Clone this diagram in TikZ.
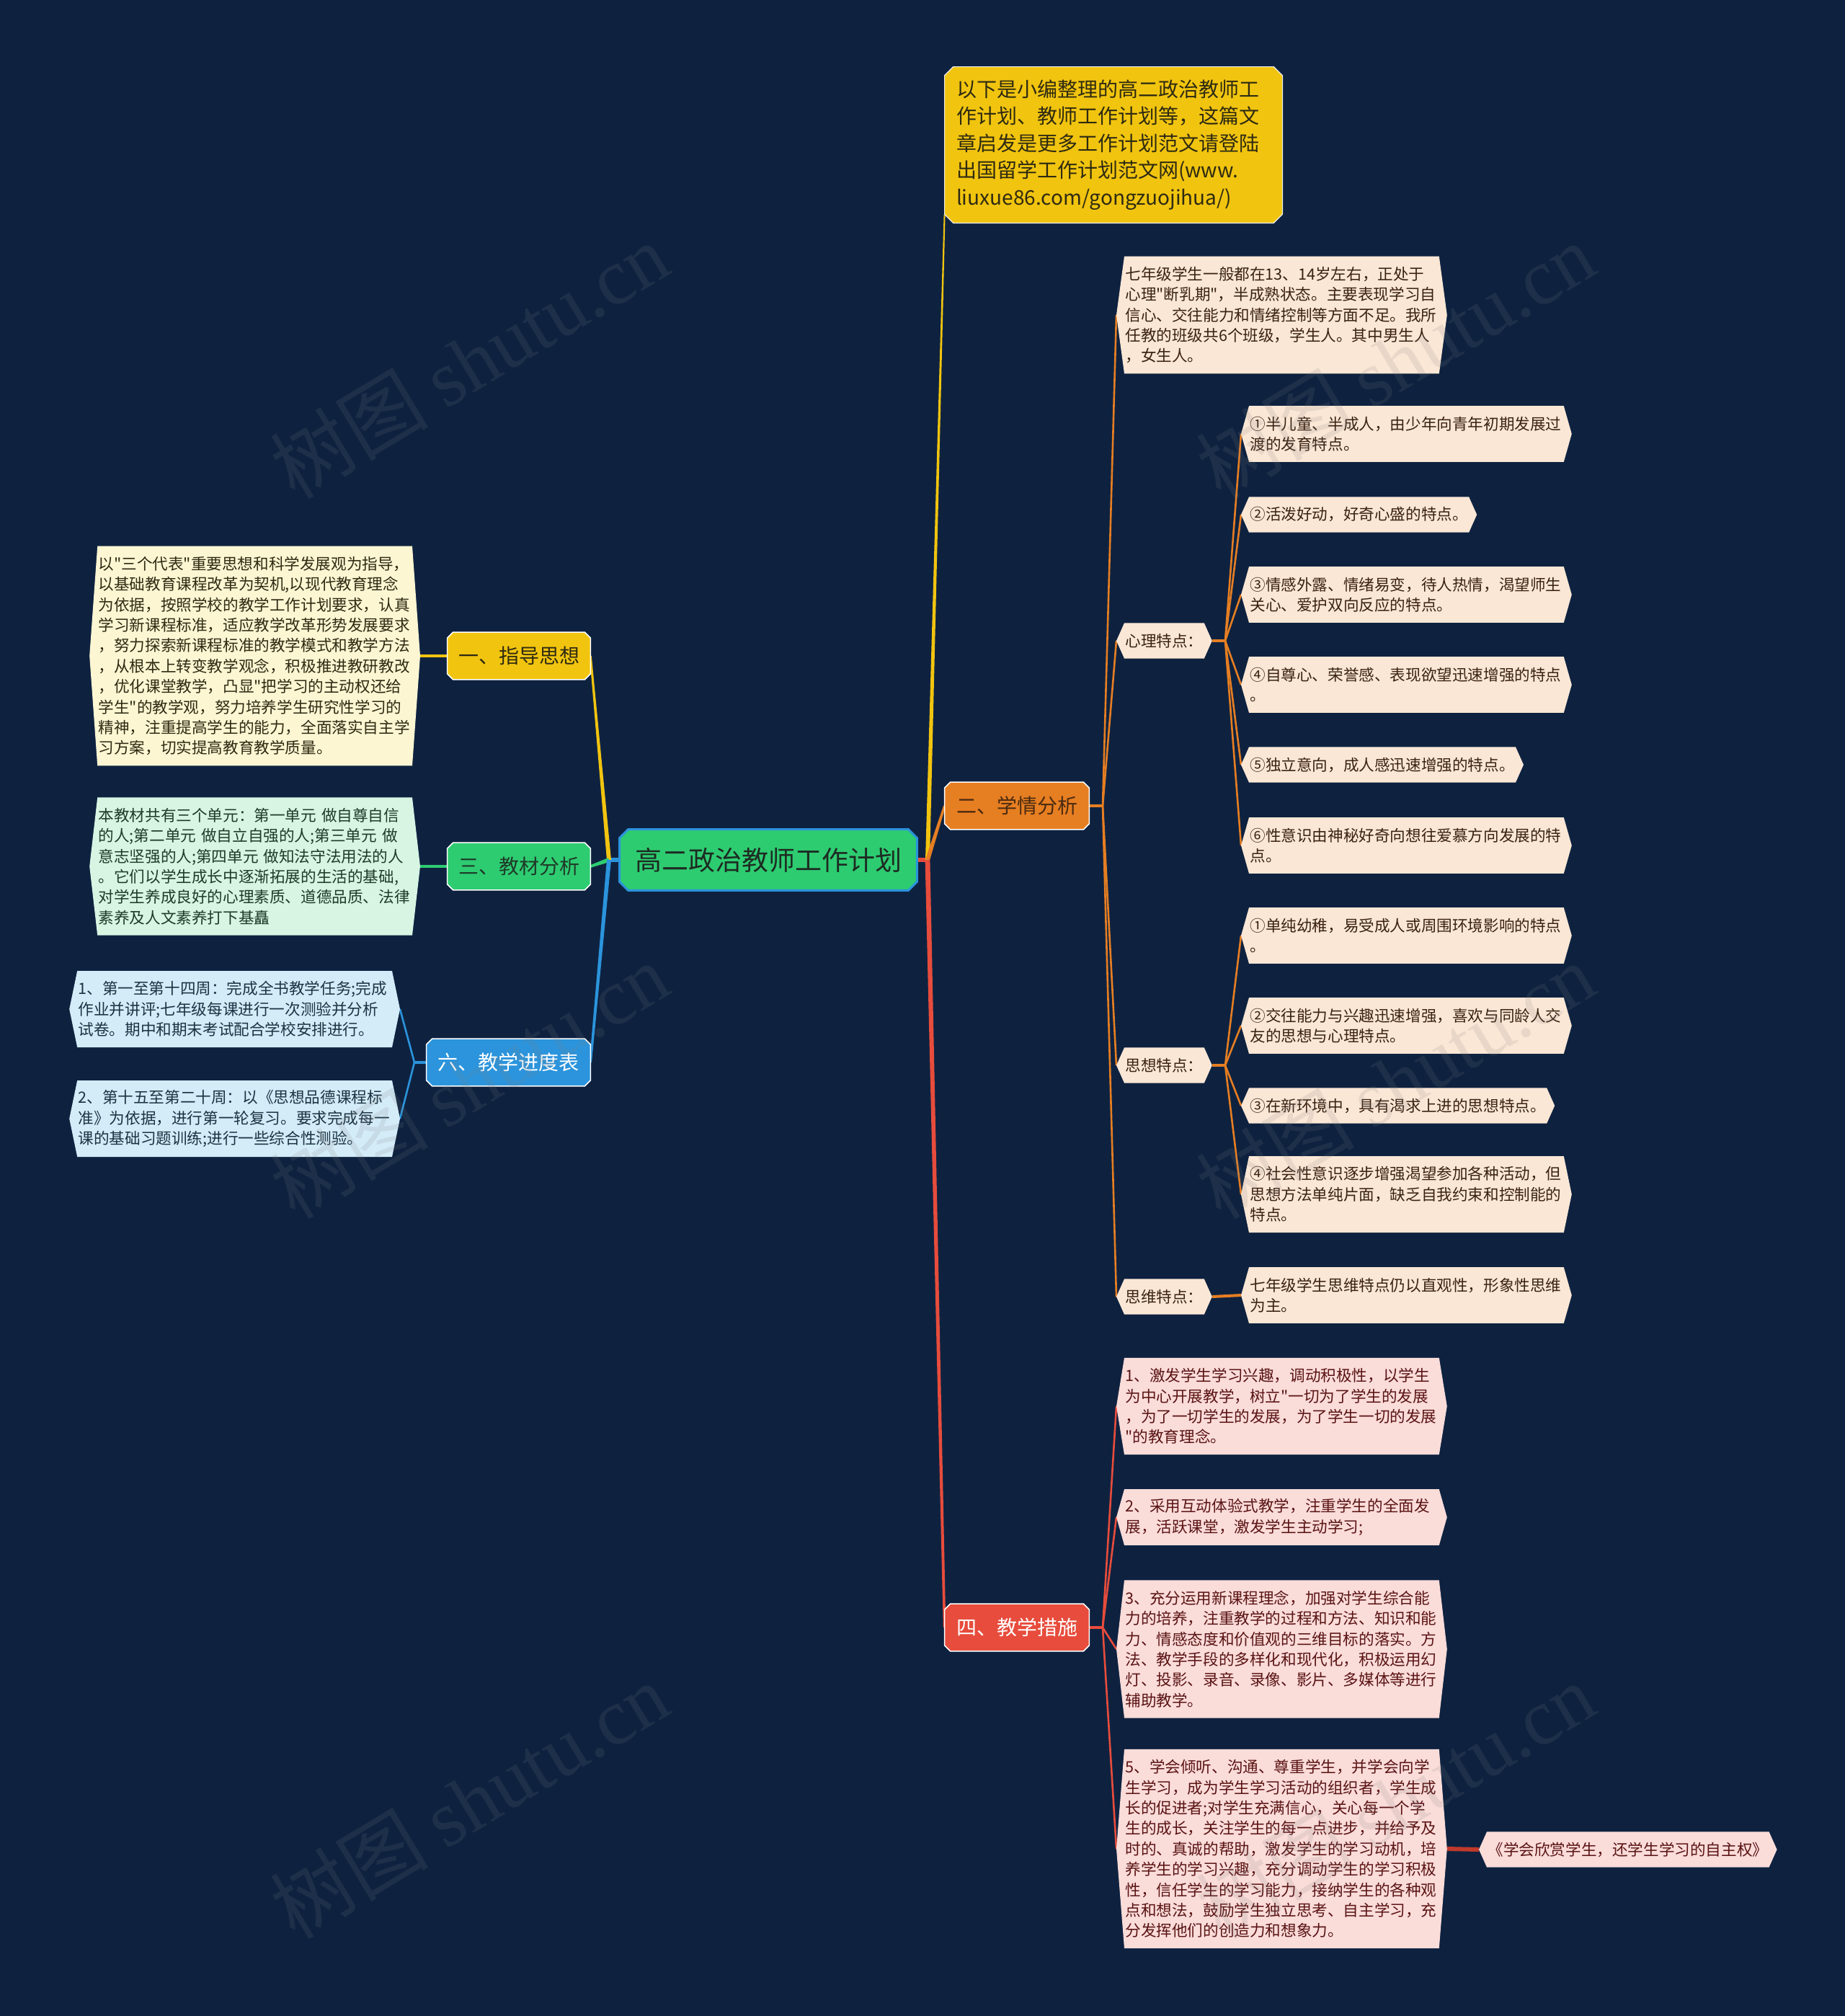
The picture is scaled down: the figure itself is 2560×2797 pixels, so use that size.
\documentclass[tikz,border=0pt]{standalone}
\usepackage{fontspec}
\setmainfont{Noto Sans CJK SC}[Ligatures=TeXOff]
\newfontfamily\wmfont{Liberation Serif}
\usetikzlibrary{calc}
\pgfdeclarelayer{bg}
\pgfdeclarelayer{edges}
\pgfdeclarelayer{shapes}
\pgfdeclarelayer{wm}
\pgfsetlayers{bg,edges,shapes,main,wm}
\definecolor{navy}{HTML}{0E2240}
\definecolor{cyel}{HTML}{F1C40F}
\definecolor{corg}{HTML}{E67E22}
\definecolor{cred}{HTML}{E74C3C}
\definecolor{cdred}{HTML}{C0392B}
\definecolor{cgrn}{HTML}{2ECC71}
\definecolor{cblu}{HTML}{2B94DC}
\definecolor{fpeach}{HTML}{FBE7D5}
\definecolor{fpink}{HTML}{FADCD9}
\definecolor{fcream}{HTML}{FDF6D3}
\definecolor{fmint}{HTML}{D8F5E3}
\definecolor{fsky}{HTML}{D4ECF8}
\definecolor{tbrown}{HTML}{3A2213}
\definecolor{tmaroon}{HTML}{5A1414}
\definecolor{tolive}{HTML}{2E2A12}
\definecolor{tgreen}{HTML}{1E3A28}
\definecolor{tblue}{HTML}{1C3344}
\definecolor{tbr}{HTML}{4A2A10}
\definecolor{troot}{HTML}{1D2B22}
\newcommand\leaffont{\fontsize{10.8pt}{14.2pt}\selectfont}
\newcommand\brfont{\fontsize{14pt}{17pt}\selectfont}
\newcommand\hexbox[3]{\path[#3] (#1.north west) -- (#1.north east) -- ([xshift=#2]#1.east) -- (#1.south east) -- (#1.south west) -- ([xshift=-#2]#1.west) -- cycle;}
\newcommand\octbox[3]{\path[#3] ([xshift=#2]#1.north west) -- ([xshift=-#2]#1.north east) -- ([yshift=-#2]#1.north east) -- ([yshift=#2]#1.south east) -- ([xshift=-#2]#1.south east) -- ([xshift=#2]#1.south west) -- ([yshift=#2]#1.south west) -- ([yshift=-#2]#1.north west) -- cycle;}
\newcommand\taperline[5]{\fill[#5] ($(#1)!#3!90:(#2)$) -- ($(#2)!#4!-90:(#1)$) -- ($(#2)!#4!90:(#1)$) -- ($(#1)!#3!-90:(#2)$) -- cycle;}
\tikzset{
  leafbox/.style={text width=217pt, inner xsep=0.5pt, inner ysep=3pt, align=left, font=\leaffont},
  nl/.style={minimum height=14.2pt*#1+10pt},
  shortbox/.style={inner xsep=0.5pt, inner ysep=3pt, minimum height=24.2pt, font=\leaffont},
  branchbox/.style={inner sep=0pt, minimum height=32.5pt, font=\brfont, align=center},
  conn/.style={line width=1.3pt},
}
\begin{document}
\begin{tikzpicture}[x=0.5pt,y=-0.5pt]
\useasboundingbox (0,0) rectangle (2560,2797);
\begin{pgfonlayer}{bg}
\fill[navy] (0,0) rectangle (2560,2797);
\end{pgfonlayer}

% root and branches
\node[inner sep=0pt, minimum width=206pt, minimum height=42pt, font=\fontsize{18.5pt}{22pt}\selectfont, text=troot] (root) at (1066,1193) {高二政治教师工作计划};
\node[text width=218pt, inner xsep=8pt, inner ysep=3pt, minimum height=108pt, align=left, font=\fontsize{14pt}{18.75pt}\selectfont, text=tolive] (top) at (1545,201) {以下是小编整理的高二政治教师工\\作计划、教师工作计划等，这篇文\\章启发是更多工作计划范文请登陆\\出国留学工作计划范文网(www.\\liuxue86.com/gongzuojihua/)};
\node[branchbox, minimum width=100pt, text=tbr] (b2) at (1411,1118) {二、学情分析};
\node[branchbox, minimum width=100pt, text=white] (b4) at (1411,2258) {四、教学措施};
\node[branchbox, minimum width=99pt, text=tolive] (b1) at (720,910) {一、指导思想};
\node[branchbox, minimum width=99pt, text=tgreen] (b3) at (720,1202) {三、教材分析};
\node[branchbox, minimum width=113.5pt, text=white] (b6) at (705.5,1474) {六、教学进度表};

% left leaves
\node[leafbox, nl=10, text=tolive, anchor=east] (L1) at (572,910) {以"三个代表"重要思想和科学发展观为指导，\\以基础教育课程改革为契机,以现代教育理念\\为依据，按照学校的教学工作计划要求，认真\\学习新课程标准，适应教学改革形势发展要求\\，努力探索新课程标准的教学模式和教学方法\\，从根本上转变教学观念，积极推进教研教改\\，优化课堂教学，凸显"把学习的主动权还给\\学生"的教学观，努力培养学生研究性学习的\\精神，注重提高学生的能力，全面落实自主学\\习方案，切实提高教育教学质量。};
\node[leafbox, nl=6, text=tgreen, anchor=east] (L3) at (572,1202) {本教材共有三个单元：第一单元 做自尊自信\\的人;第二单元 做自立自强的人;第三单元 做\\意志坚强的人;第四单元 做知法守法用法的人\\。它们以学生成长中逐渐拓展的生活的基础,\\对学生养成良好的心理素质、道德品质、法律\\素养及人文素养打下基矗};
\node[leafbox, nl=3, text=tblue, anchor=east] (L6a) at (544,1400) {1、第一至第十四周：完成全书教学任务;完成\\作业并讲评;七年级每课进行一次测验并分析\\试卷。期中和期末考试配合学校安排进行。};
\node[leafbox, nl=3, text=tblue, anchor=east] (L6b) at (544,1552) {2、第十五至第二十周：以《思想品德课程标\\准》为依据，进行第一轮复习。要求完成每一\\课的基础习题训练;进行一些综合性测验。};

% 二 subtree
\node[leafbox, nl=5, text=tbrown, anchor=west] (s0) at (1560,437) {七年级学生一般都在13、14岁左右，正处于\\心理"断乳期"，半成熟状态。主要表现学习自\\信心、交往能力和情绪控制等方面不足。我所\\任教的班级共6个班级，学生人。其中男生人\\，女生人。};
\node[shortbox, text=tbrown, anchor=west] (xl) at (1560,889) {心理特点：};
\node[shortbox, text=tbrown, anchor=west] (sx) at (1560,1478) {思想特点：};
\node[shortbox, text=tbrown, anchor=west] (sw) at (1560,1799) {思维特点：};
\node[leafbox, nl=2, text=tbrown, anchor=west] (x1) at (1733,602) {①半儿童、半成人，由少年向青年初期发展过\\渡的发育特点。};
\node[shortbox, text=tbrown, anchor=west] (x2) at (1733,714) {②活泼好动，好奇心盛的特点。};
\node[leafbox, nl=2, text=tbrown, anchor=west] (x3) at (1733,825) {③情感外露、情绪易变，待人热情，渴望师生\\关心、爱护双向反应的特点。};
\node[leafbox, nl=2, text=tbrown, anchor=west] (x4) at (1733,950) {④自尊心、荣誉感、表现欲望迅速增强的特点\\。};
\node[shortbox, text=tbrown, anchor=west] (x5) at (1733,1061) {⑤独立意向，成人感迅速增强的特点。};
\node[leafbox, nl=2, text=tbrown, anchor=west] (x6) at (1733,1173) {⑥性意识由神秘好奇向想往爱慕方向发展的特\\点。};
\node[leafbox, nl=2, text=tbrown, anchor=west] (t1) at (1733,1298) {①单纯幼稚，易受成人或周围环境影响的特点\\。};
\node[leafbox, nl=2, text=tbrown, anchor=west] (t2) at (1733,1423) {②交往能力与兴趣迅速增强，喜欢与同龄人交\\友的思想与心理特点。};
\node[shortbox, text=tbrown, anchor=west] (t3) at (1733,1534) {③在新环境中，具有渴求上进的思想特点。};
\node[leafbox, nl=3, text=tbrown, anchor=west] (t4) at (1733,1657) {④社会性意识逐步增强渴望参加各种活动，但\\思想方法单纯片面，缺乏自我约束和控制能的\\特点。};
\node[leafbox, nl=2, text=tbrown, anchor=west] (w1) at (1733,1797) {七年级学生思维特点仍以直观性，形象性思维\\为主。};

% 四 subtree
\node[leafbox, nl=4, text=tmaroon, anchor=west] (f1) at (1560,1951) {1、激发学生学习兴趣，调动积极性，以学生\\为中心开展教学，树立"一切为了学生的发展\\，为了一切学生的发展，为了学生一切的发展\\"的教育理念。};
\node[leafbox, nl=2, text=tmaroon, anchor=west] (f2) at (1560,2105) {2、采用互动体验式教学，注重学生的全面发\\展，活跃课堂，激发学生主动学习;};
\node[leafbox, nl=6, text=tmaroon, anchor=west] (f3) at (1560,2288) {3、充分运用新课程理念，加强对学生综合能\\力的培养，注重教学的过程和方法、知识和能\\力、情感态度和价值观的三维目标的落实。方\\法、教学手段的多样化和现代化，积极运用幻\\灯、投影、录音、录像、影片、多媒体等进行\\辅助教学。};
\node[leafbox, nl=9, text=tmaroon, anchor=west] (f5) at (1560,2565) {5、学会倾听、沟通、尊重学生，并学会向学\\生学习，成为学生学习活动的组织者，学生成\\长的促进者;对学生充满信心，关心每一个学\\生的成长，关注学生的每一点进步，并给予及\\时的、真诚的帮助，激发学生的学习动机，培\\养学生的学习兴趣，充分调动学生的学习积极\\性，信任学生的学习能力，接纳学生的各种观\\点和想法，鼓励学生独立思考、自主学习，充\\分发挥他们的创造力和想象力。};
\node[shortbox, text=tmaroon, anchor=west] (g) at (2063,2566) {《学会欣赏学生，还学生学习的自主权》};

% connectors
\begin{pgfonlayer}{edges}
\coordinate (rj) at (1287,1193);
\coordinate (lj) at (845,1193);
\coordinate (topA) at ([yshift=6pt]top.south west);
\draw[cred, line width=3pt] (root.east) -- (rj);
\draw[cblu, line width=3pt] (root.west) -- (lj);
\taperline{rj}{topA}{1.5pt}{0.5pt}{cyel}
\taperline{rj}{b2.west}{1.5pt}{0.8pt}{corg}
\taperline{rj}{b4.west}{1.7pt}{0.9pt}{cred}
\taperline{lj}{b1.east}{1.5pt}{0.7pt}{cyel}
\taperline{lj}{b3.east}{1.5pt}{0.9pt}{cgrn}
\taperline{lj}{b6.east}{1.5pt}{0.8pt}{cblu}
\draw[cyel, line width=2pt] (b1.west) -- ([xshift=5.5pt]L1.east);
\draw[cgrn, line width=2pt] (b3.west) -- ([xshift=5.5pt]L3.east);
\coordinate (j6) at (575,1474);
\draw[cblu, line width=2pt] (b6.west) -- (j6);
\draw[cblu, conn] (j6) -- ([xshift=5.5pt]L6a.east);
\draw[cblu, conn] (j6) -- ([xshift=5.5pt]L6b.east);
\coordinate (j2) at (1530,1118);
\draw[corg, line width=2pt] (b2.east) -- (j2);
\foreach \n in {s0,xl,sx,sw} {\draw[corg, conn] (j2) -- ([xshift=-5.5pt]\n.west);}
\coordinate (jx) at (1700,889);
\draw[corg, line width=2pt] ([xshift=5.5pt]xl.east) -- (jx);
\foreach \n in {x1,x2,x3,x4,x5,x6} {\draw[corg, conn] (jx) -- ([xshift=-5.5pt]\n.west);}
\coordinate (jt) at (1700,1478);
\draw[corg, line width=2pt] ([xshift=5.5pt]sx.east) -- (jt);
\foreach \n in {t1,t2,t3,t4} {\draw[corg, conn] (jt) -- ([xshift=-5.5pt]\n.west);}
\draw[corg, line width=2pt] ([xshift=5.5pt]sw.east) -- ([xshift=-5.5pt]w1.west);
\coordinate (j4) at (1530,2258);
\draw[cred, line width=2pt] (b4.east) -- (j4);
\foreach \n in {f1,f2,f3,f5} {\draw[cred, conn] (j4) -- ([xshift=-5.5pt]\n.west);}
\draw[cdred, line width=3pt] ([xshift=5.5pt]f5.east) -- ([xshift=-5.5pt]g.west);
\end{pgfonlayer}

% shapes
\begin{pgfonlayer}{shapes}
\foreach \n in {s0,xl,sx,sw,x1,x2,x3,x4,x5,x6,t1,t2,t3,t4,w1} {\hexbox{\n}{5.5pt}{fill=fpeach}}
\foreach \n in {f1,f2,f3,f5,g} {\hexbox{\n}{5.5pt}{fill=fpink}}
\hexbox{L1}{5.5pt}{fill=fcream}
\hexbox{L3}{5.5pt}{fill=fmint}
\hexbox{L6a}{5.5pt}{fill=fsky}
\hexbox{L6b}{5.5pt}{fill=fsky}
\octbox{b1}{4pt}{fill=cyel, draw=white, line width=0.8pt}
\octbox{b3}{4pt}{fill=cgrn, draw=white, line width=0.8pt}
\octbox{b6}{4pt}{fill=cblu, draw=white, line width=0.8pt}
\octbox{b2}{4pt}{fill=corg, draw=white, line width=0.8pt}
\octbox{b4}{4pt}{fill=cred, draw=white, line width=0.8pt}
\octbox{root}{6pt}{fill=cgrn, draw=cblu, line width=1.5pt}
\octbox{top}{6pt}{fill=cyel, draw=white!85!gray, line width=0.6pt}
\end{pgfonlayer}

% watermarks
\begin{pgfonlayer}{wm}
\foreach \x/\y [count=\i] in {651/500, 1936/500, 651/1499, 1936/1499, 651/2498, 1936/2498}
  {\node[rotate=31, text=gray, opacity=0.15, font=\fontsize{55pt}{60pt}\selectfont] (wm\i) at (\x,\y) {树图 {\wmfont shutu.cn}};}
\end{pgfonlayer}
\end{tikzpicture}
\end{document}
